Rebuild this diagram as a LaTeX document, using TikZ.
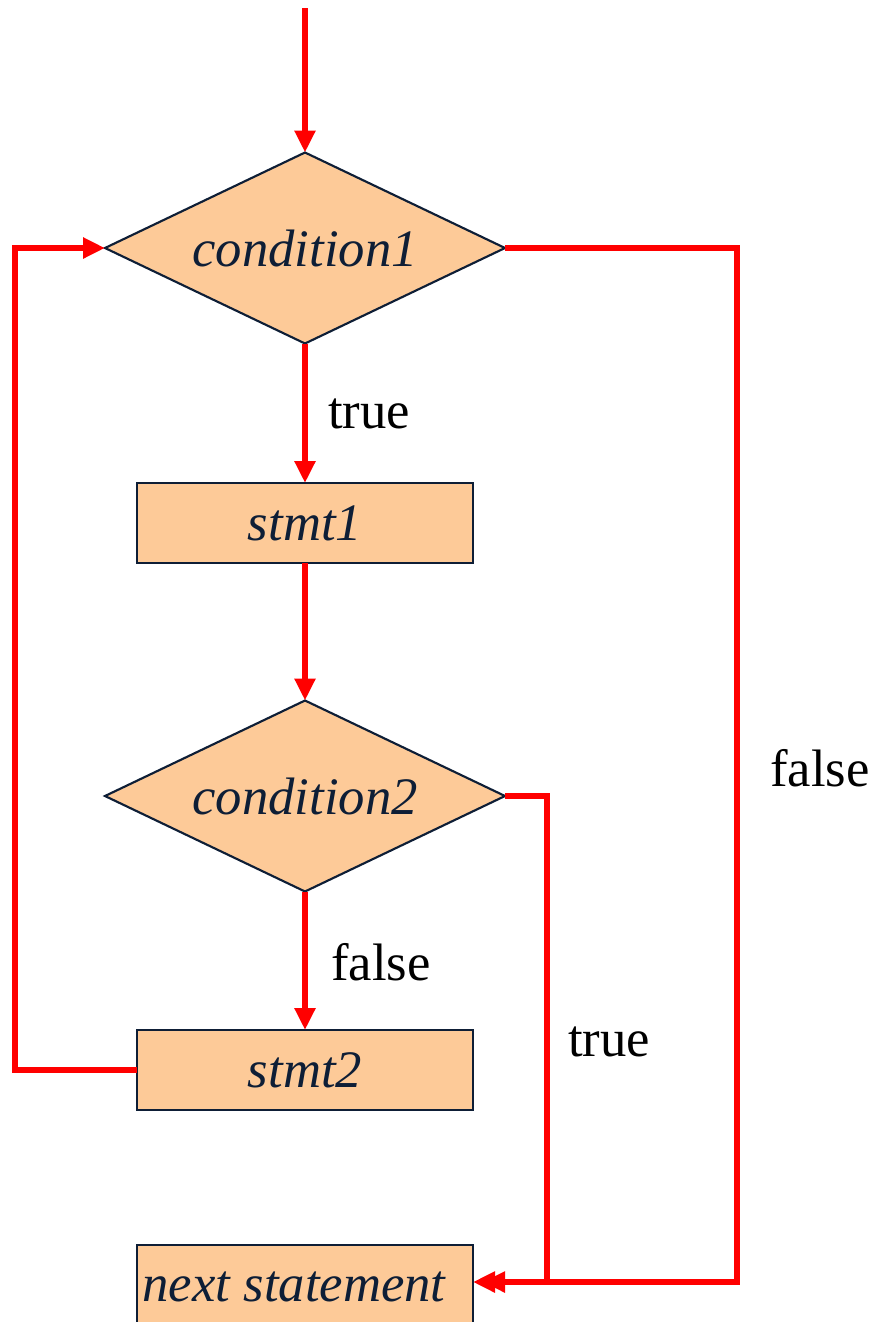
\documentclass[tikz,border=0pt]{standalone}
\usepackage{fontspec}
\setmainfont{Liberation Serif}
\usetikzlibrary{arrows.meta,shapes.geometric}
\definecolor{boxfill}{RGB}{253,202,152}
\definecolor{boxline}{RGB}{14,30,54}
\definecolor{flowred}{RGB}{255,0,0}
\begin{document}
\begin{tikzpicture}[x=0.75pt,y=-0.75pt,
  every node/.style={inner sep=0pt,outer sep=0pt},
  stmtbox/.style={draw=boxline,line width=1.6pt,fill=boxfill,minimum width=336*0.75pt,minimum height=80*0.75pt,
    font=\fontsize{39.5}{46}\selectfont\itshape,text=boxline},
  decision/.style={draw=boxline,line width=1.6pt,fill=boxfill,diamond,aspect=2.09,minimum width=400*0.75pt,minimum height=191*0.75pt,
    font=\fontsize{39.5}{46}\selectfont\itshape,text=boxline,inner sep=0pt},
  lbl/.style={font=\fontsize{39.5}{46}\selectfont,text=black},
  flow/.style={draw=flowred,line width=5.2pt,line join=miter},
  arr/.style={flow,-{Triangle[length=16.5pt,width=15pt]}}]
\useasboundingbox (0,0) rectangle (873,1322);

% decisions and statements
\node[decision] (c1) at (305,248) {condition1};
\node[stmtbox] (s1) at (305,523) {stmt1};
\node[decision] (c2) at (305,796) {condition2};
\node[stmtbox] (s2) at (305,1070) {stmt2};
\node[stmtbox,minimum height=84*0.75pt] (nx) at (305,1287) {};
\node[font=\fontsize{39.5}{46}\selectfont\itshape,text=boxline] (nxt) at (294,1287) {next statement};

% loop corners and free ends
\coordinate (start) at (305,8);
\coordinate (lt) at (15,248);
\coordinate (lb) at (15,1070);
\coordinate (rt) at (737,248);
\coordinate (rb) at (737,1282);
\coordinate (mt) at (547,796);
\coordinate (mb) at (547,1282);

% connectors
\draw[arr] (start) -- (c1.north);
\draw[arr] (c1.south) -- (s1.north);
\draw[arr] (s1.south) -- (c2.north);
\draw[arr] (c2.south) -- (s2.north);
\draw[arr] (s2.west) -- (lb) -- (lt) -- (c1.west);
\draw[arr,shorten >=10*0.75pt] (c2.east) -- (mt) -- (mb) -- (nx.east |- mb);
\draw[arr] (c1.east) -- (rt) -- (rb) -- (nx.east |- rb);

% branch labels
\node[lbl] (t1) at (369,414) {true};
\node[lbl] (f2) at (381,962) {false};
\node[lbl] (t2) at (609,1042) {true};
\node[lbl] (f1) at (820,768) {false};
\end{tikzpicture}
\end{document}
